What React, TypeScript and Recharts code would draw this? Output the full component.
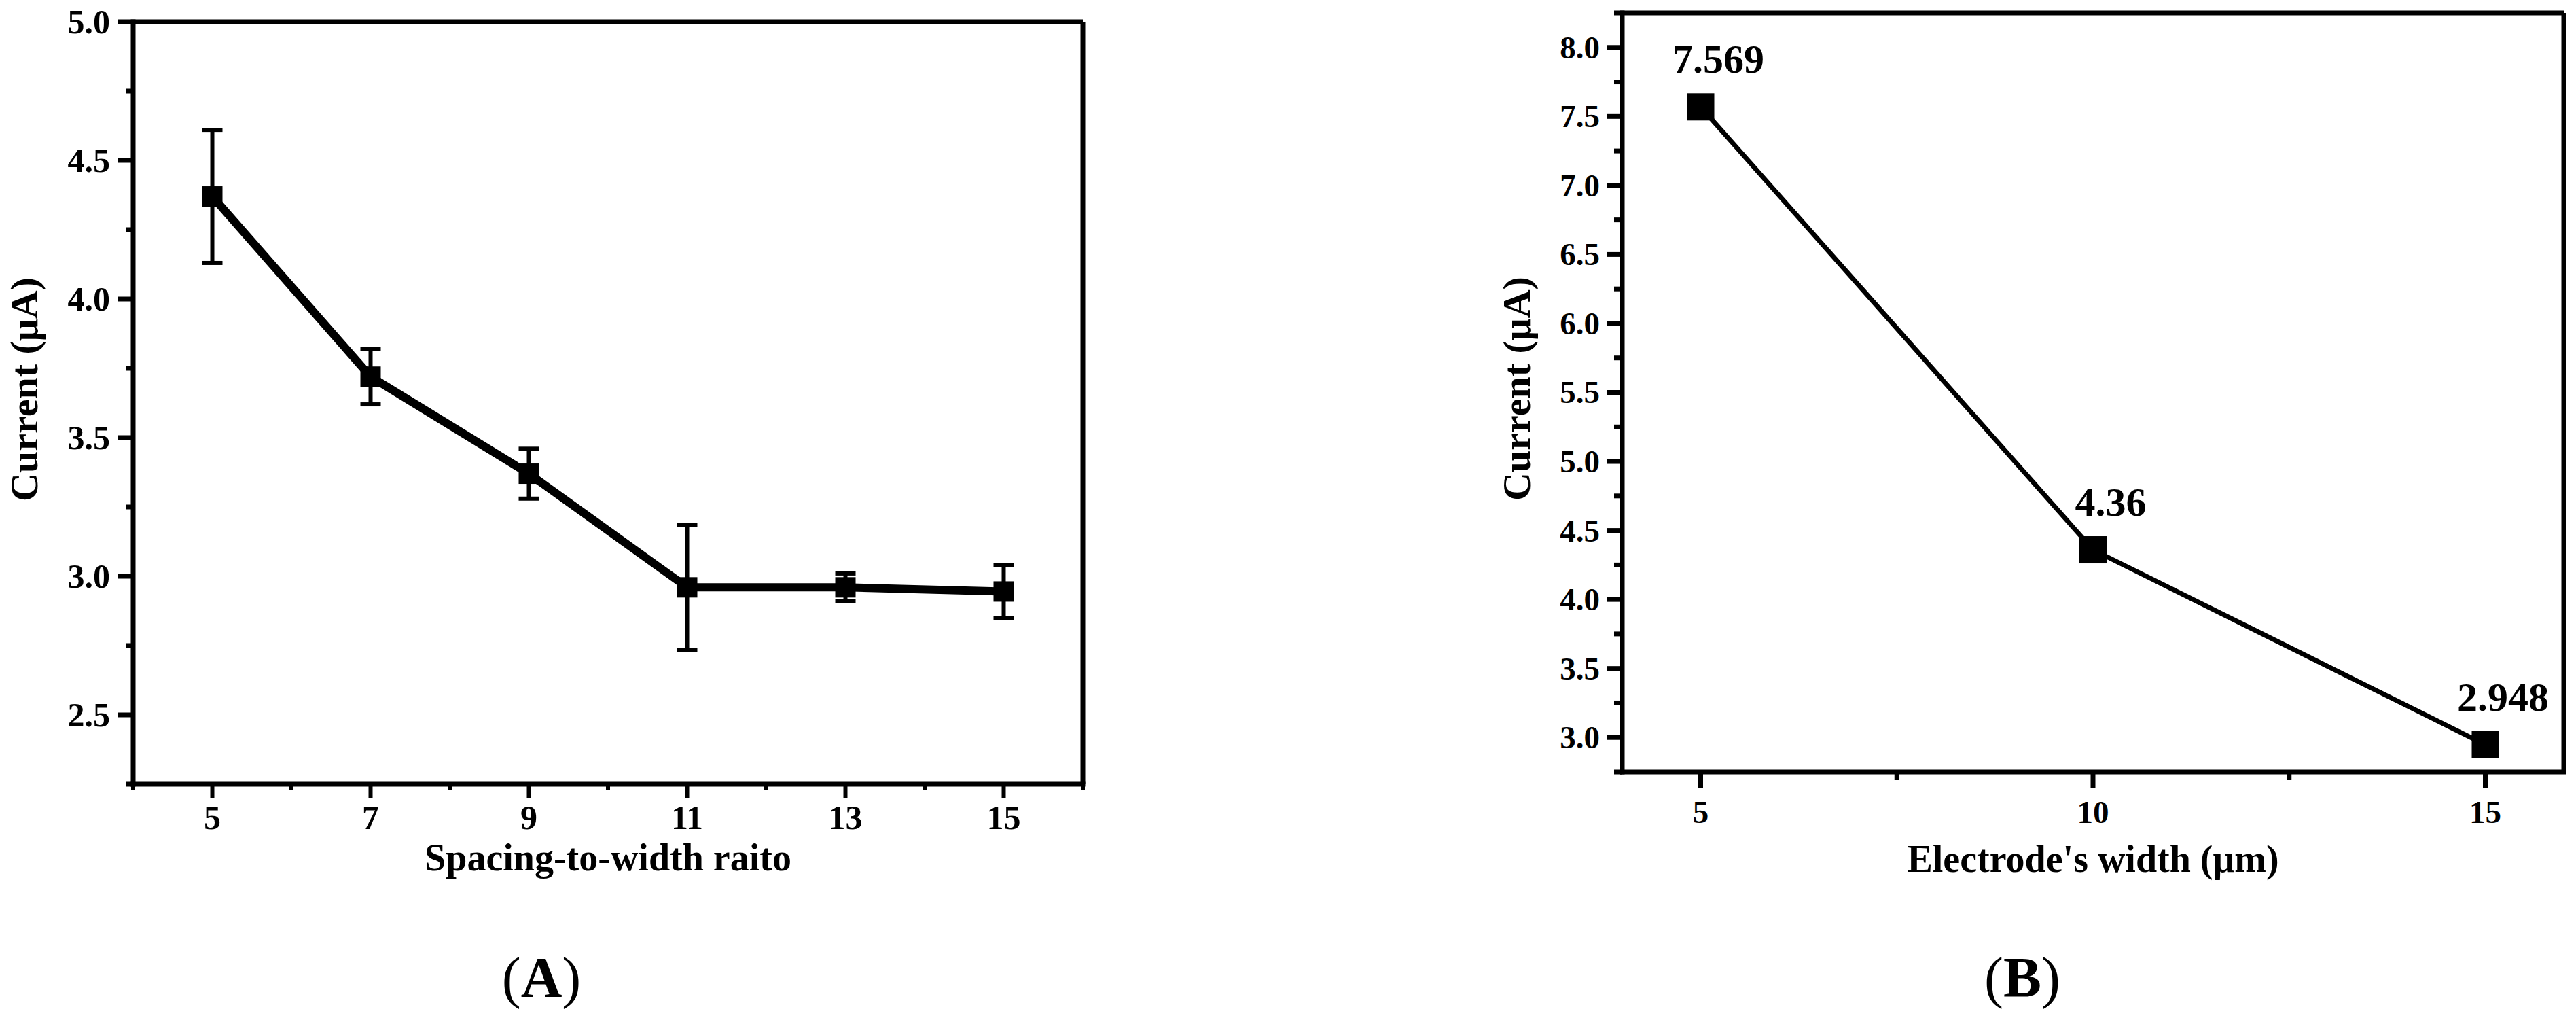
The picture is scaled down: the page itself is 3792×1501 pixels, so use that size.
import React from 'react';
import { ErrorBar, LabelList, Line, LineChart, ReferenceLine, XAxis, YAxis } from 'recharts';

// (A) current vs spacing-to-width ratio, with error bars
const spacingRatio = [5, 7, 9, 11, 13, 15];
const currentA = [4.37, 3.72, 3.37, 2.96, 2.96, 2.945];
const errorA = [0.24, 0.1, 0.09, 0.225, 0.05, 0.095];

// (B) current vs electrode width
const electrodeWidth = [5, 10, 15];
const currentB = [7.569, 4.36, 2.948];

const yMajorA = [2.5, 3.0, 3.5, 4.0, 4.5, 5.0];
const yMinorA = [2.25, 2.75, 3.25, 3.75, 4.25, 4.75];
const xMajorA = [5, 7, 9, 11, 13, 15];
const xMinorA = [4, 6, 8, 10, 12, 14, 16];

const yMajorB = [3.0, 3.5, 4.0, 4.5, 5.0, 5.5, 6.0, 6.5, 7.0, 7.5, 8.0];
const yMinorB = [2.75, 3.25, 3.75, 4.25, 4.75, 5.25, 5.75, 6.25, 6.75, 7.25, 7.75, 8.25];
const xMajorB = [5, 10, 15];
const xMinorB = [7.5, 12.5];

const dataA = spacingRatio.map((x, i) => ({ x, current: currentA[i], err: errorA[i] }));
const dataB = electrodeWidth.map((x, i) => ({ x, current: currentB[i] }));

const FONT = '"Liberation Serif", "Times New Roman", serif';

type TickOpts = { major: number; minor: number; gap: number; sw: number; fs: number; fmt: (v: number) => string };

function leftTick(majors: number[], o: TickOpts) {
  return (props: any) => {
    const { x, y, payload } = props;
    const isMajor = majors.includes(payload.value);
    const len = isMajor ? o.major : o.minor;
    return (
      <g>
        <line x1={x} x2={x - len} y1={y} y2={y} stroke="#000" strokeWidth={o.sw} />
        {isMajor && (
          <text x={x - o.major - o.gap} y={y} dy="0.34em" textAnchor="end" fontFamily={FONT} fontWeight="bold" fontSize={o.fs} fill="#000">
            {o.fmt(payload.value)}
          </text>
        )}
      </g>
    );
  };
}

function bottomTick(majors: number[], o: TickOpts) {
  return (props: any) => {
    const { x, y, payload } = props;
    const isMajor = majors.includes(payload.value);
    const len = isMajor ? o.major : o.minor;
    return (
      <g>
        <line x1={x} x2={x} y1={y} y2={y + len} stroke="#000" strokeWidth={o.sw} />
        {isMajor && (
          <text x={x} y={y + o.gap} textAnchor="middle" fontFamily={FONT} fontWeight="bold" fontSize={o.fs} fill="#000">
            {o.fmt(payload.value)}
          </text>
        )}
      </g>
    );
  };
}

const squareDot = (size: number) => (props: any) => {
  const { cx, cy, index } = props;
  return <rect key={`sq${index}`} x={cx - size / 2} y={cy - size / 2} width={size} height={size} fill="#000" />;
};

const valueLabel = (props: any) => {
  const { x, y, value, index } = props;
  return (
    <text key={`lb${index}`} x={x + 26} y={y - 50} textAnchor="middle" fontFamily={FONT} fontWeight="bold" fontSize={60} fill="#000">
      {String(value)}
    </text>
  );
};

export default function App() {
  const axisLine = { stroke: '#000', strokeWidth: 7, strokeLinecap: 'square' as const };
  return (
    <div style={{ position: 'absolute', left: 0, top: 0, width: 3792, height: 1501, background: '#fff', overflow: 'hidden' }}>
      <div style={{ position: 'absolute', left: 0, top: 0 }}>
        <LineChart width={1700} height={1350} data={dataA} margin={{ top: 32, right: 106, bottom: 0, left: 0 }}>
          <XAxis
            type="number"
            dataKey="x"
            domain={[4, 16]}
            ticks={[...xMinorA, ...xMajorA].sort((a, b) => a - b)}
            interval={0}
            height={196}
            tickSize={0}
            tickMargin={0}
            tickLine={false}
            axisLine={axisLine}
            tick={bottomTick(xMajorA, { major: 20, minor: 9, gap: 66, sw: 6, fs: 50, fmt: (v) => String(v) })}
          />
          <YAxis
            type="number"
            domain={[2.25, 5.0]}
            ticks={[...yMinorA, ...yMajorA].sort((a, b) => a - b)}
            interval={0}
            width={196}
            tickSize={0}
            tickMargin={0}
            tickLine={false}
            axisLine={axisLine}
            tick={leftTick(yMajorA, { major: 22, minor: 11, gap: 12, sw: 7, fs: 50, fmt: (v) => v.toFixed(1) })}
          />
          <ReferenceLine y={5.0} stroke="#000" strokeWidth={7} />
          <ReferenceLine x={16} stroke="#000" strokeWidth={7} />
          <Line
            type="linear"
            dataKey="current"
            stroke="#000"
            strokeWidth={12}
            dot={squareDot(30)}
            activeDot={false}
            isAnimationActive={false}
          >
            <ErrorBar dataKey="err" direction="y" width={15} stroke="#000" strokeWidth={6} />
          </Line>
        </LineChart>
      </div>

      <div style={{ position: 'absolute', left: 2200, top: 0 }}>
        <LineChart width={1592} height={1350} data={dataB} margin={{ top: 19, right: 18, bottom: 0, left: 0 }}>
          <XAxis
            type="number"
            dataKey="x"
            domain={[4, 16]}
            ticks={[...xMinorB, ...xMajorB].sort((a, b) => a - b)}
            interval={0}
            height={214}
            tickSize={0}
            tickMargin={0}
            tickLine={false}
            axisLine={axisLine}
            tick={bottomTick(xMajorB, { major: 23, minor: 12, gap: 75, sw: 7, fs: 47, fmt: (v) => String(v) })}
          />
          <YAxis
            type="number"
            domain={[2.75, 8.25]}
            ticks={[...yMinorB, ...yMajorB].sort((a, b) => a - b)}
            interval={0}
            width={188}
            tickSize={0}
            tickMargin={0}
            tickLine={false}
            axisLine={axisLine}
            tick={leftTick(yMajorB, { major: 23, minor: 12, gap: 10, sw: 7, fs: 47, fmt: (v) => v.toFixed(1) })}
          />
          <ReferenceLine y={8.25} stroke="#000" strokeWidth={7} />
          <ReferenceLine x={16} stroke="#000" strokeWidth={7} />
          <Line
            type="linear"
            dataKey="current"
            stroke="#000"
            strokeWidth={7}
            dot={squareDot(40)}
            activeDot={false}
            isAnimationActive={false}
          >
            <LabelList dataKey="current" content={valueLabel} />
          </Line>
        </LineChart>
      </div>

      <svg width={3792} height={1501} style={{ position: 'absolute', left: 0, top: 0, pointerEvents: 'none' }}>
        <g fontFamily={FONT} fill="#000">
          <text x={55} y={573} transform="rotate(-90 55 573)" textAnchor="middle" fontWeight="bold" fontSize={58}>
            Current (μA)
          </text>
          <text x={895} y={1281} textAnchor="middle" fontWeight="bold" fontSize={56}>
            Spacing-to-width raito
          </text>
          <text x={2252} y={572} transform="rotate(-90 2252 572)" textAnchor="middle" fontWeight="bold" fontSize={58}>
            Current (μA)
          </text>
          <text x={3081} y={1283} textAnchor="middle" fontWeight="bold" fontSize={56}>
            Electrode's width (μm)
          </text>
          <text x={797} y={1467} textAnchor="middle" fontSize={84}>
            (<tspan fontWeight="bold">A</tspan>)
          </text>
          <text x={2977} y={1467} textAnchor="middle" fontSize={84}>
            (<tspan fontWeight="bold">B</tspan>)
          </text>
        </g>
      </svg>
    </div>
  );
}
